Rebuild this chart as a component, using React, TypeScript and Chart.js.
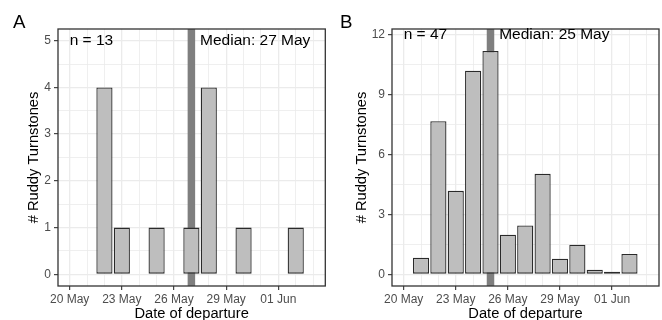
import React, { useEffect, useRef } from 'react';
import { Chart, registerables } from 'chart.js';

Chart.register(...registerables);

const FONT = "'Liberation Sans', Arial, Helvetica, sans-serif";

// x axis (dates of departure)
const xTickLabels = ['20 May', '23 May', '26 May', '29 May', '01 Jun'];
const xMin = -0.67;
const xMax = 14.7;

// Panel A
const datesA = ['22 May', '23 May', '25 May', '27 May', '28 May', '30 May', '02 Jun'];
const countsA = [4, 1, 1, 1, 4, 1, 1];
const medianA = '27 May';
const nA = 13;
const yTicksA = [0, 1, 2, 3, 4, 5];
const yMinA = -0.25;
const yMaxA = 5.25;

// Panel B
const datesB = ['21 May', '22 May', '23 May', '24 May', '25 May', '26 May', '27 May', '28 May', '29 May', '30 May', '31 May', '01 Jun', '02 Jun'];
const countsB = [0.83, 7.67, 4.18, 10.2, 11.18, 1.98, 2.45, 5.03, 0.78, 1.48, 0.23, 0.13, 1.02];
const medianB = '25 May';
const nB = 47;
const yTicksB = [0, 3, 6, 9, 12];
const yMinB = -0.585;
const yMaxB = 12.285;

const MONTH_OFFSET: Record<string, number> = { May: 0, Jun: 31 };
function dayIndex(s: string): number {
  const [d, m] = s.split(' ');
  return Number(d) + MONTH_OFFSET[m] - 20;
}

type PanelProps = {
  letter: string;
  dates: string[];
  counts: number[];
  median: string;
  n: number;
  yTicks: number[];
  yMin: number;
  yMax: number;
  yWidth: number;
  rightPad: number;
  yTitlePad: number;
  letterX: number;
  left: number;
};

function Panel(p: PanelProps) {
  const ref = useRef<HTMLCanvasElement>(null);
  useEffect(() => {
    if (!ref.current) return;
    const xs = p.dates.map(dayIndex);
    const mx = dayIndex(p.median);
    const majorX = xTickLabels.map(dayIndex);
    const gridX: number[] = [];
    for (let v = Math.ceil(xMin); v <= Math.floor(xMax); v++) gridX.push(v);
    const step = p.yTicks[1] - p.yTicks[0];
    const gridY: number[] = [];
    p.yTicks.forEach((t, i) => {
      gridY.push(t);
      if (i < p.yTicks.length - 1) gridY.push(t + step / 2);
    });
    const topY = p.yTicks[p.yTicks.length - 1];

    const annot = {
      id: 'annot',
      afterDatasetsDraw(chart: any) {
        const { ctx, chartArea } = chart;
        const { left, top, right, bottom } = chartArea;
        const x = chart.scales.x;
        const y = chart.scales.y;
        ctx.save();
        ctx.strokeStyle = '#333333';
        ctx.lineWidth = 1.3;
        ctx.strokeRect(left, top, right - left, bottom - top);
        ctx.fillStyle = '#000000';
        ctx.font = `15.5px ${FONT}`;
        ctx.textBaseline = 'middle';
        ctx.textAlign = 'left';
        const ty = y.getPixelForValue(topY) + 0.5;
        ctx.fillText(`n = ${p.n}`, x.getPixelForValue(0), ty);
        ctx.fillText(`Median: ${p.median}`, x.getPixelForValue(mx + 0.5), ty);
        ctx.font = `18.7px ${FONT}`;
        ctx.textBaseline = 'alphabetic';
        ctx.fillText(p.letter, p.letterX, 28);
        ctx.restore();
      },
    };

    const chart = new Chart(ref.current, {
      type: 'bar',
      data: {
        datasets: [
          {
            type: 'bar',
            data: xs.map((x, i) => ({ x, y: p.counts[i] })),
            backgroundColor: '#BEBEBE',
            borderColor: '#2A2A2A',
            borderWidth: 1.3,
            borderSkipped: false,
            barPercentage: 0.93,
            categoryPercentage: 1,
            order: 1,
          } as any,
          {
            type: 'line',
            data: [
              { x: mx, y: p.yMin },
              { x: mx, y: p.yMax },
            ],
            borderColor: '#7F7F7F',
            borderWidth: 7.5,
            pointRadius: 0,
            order: 2,
            clip: 0,
          } as any,
        ],
      },
      plugins: [annot],
      options: {
        responsive: false,
        animation: false,
        events: [],
        plugins: { legend: { display: false }, tooltip: { enabled: false } },
        layout: { padding: { top: 29, right: p.rightPad, left: 0, bottom: 0 } },
        scales: {
          x: {
            type: 'linear',
            min: xMin,
            max: xMax,
            offset: false,
            afterBuildTicks: (s: any) => {
              s.ticks = gridX.map((v) => ({ value: v }));
            },
            afterFit: (s: any) => {
              s.height = 34;
            },
            ticks: {
              autoSkip: false,
              maxRotation: 0,
              minRotation: 0,
              padding: 2,
              color: '#4D4D4D',
              font: { family: FONT, size: 12 },
              callback: (v: any) => {
                const i = majorX.indexOf(Number(v));
                return i >= 0 ? xTickLabels[i] : '';
              },
            },
            grid: {
              offset: false,
              color: '#EBEBEB',
              lineWidth: (c: any) => (majorX.includes(c.tick?.value) ? 1.3 : 0.8),
              tickColor: (c: any) => (majorX.includes(c.tick?.value) ? '#333333' : 'rgba(0,0,0,0)'),
              tickLength: 4,
              tickWidth: 1.1,
              drawTicks: true,
            },
            border: { display: false },
            title: {
              display: true,
              text: 'Date of departure',
              color: '#000000',
              font: { family: FONT, size: 14.7 },
              padding: { top: 0, bottom: -3.2 },
            },
          },
          y: {
            type: 'linear',
            min: p.yMin,
            max: p.yMax,
            afterBuildTicks: (s: any) => {
              s.ticks = gridY.map((v) => ({ value: v }));
            },
            afterFit: (s: any) => {
              s.width = p.yWidth;
            },
            ticks: {
              autoSkip: false,
              padding: 3,
              color: '#4D4D4D',
              font: { family: FONT, size: 12 },
              callback: (v: any) => (p.yTicks.includes(Number(v)) ? String(v) : ''),
            },
            grid: {
              color: '#EBEBEB',
              lineWidth: (c: any) => (p.yTicks.includes(c.tick?.value) ? 1.3 : 0.8),
              tickColor: (c: any) => (p.yTicks.includes(c.tick?.value) ? '#333333' : 'rgba(0,0,0,0)'),
              tickLength: 4,
              tickWidth: 1.1,
              drawTicks: true,
            },
            border: { display: false },
            title: {
              display: true,
              text: '# Ruddy Turnstones',
              color: '#000000',
              font: { family: FONT, size: 14.7 },
              padding: { top: p.yTitlePad, bottom: 0 },
            },
          },
        },
      } as any,
    });
    return () => chart.destroy();
  }, []);
  return (
    <canvas
      ref={ref}
      width={331}
      height={320}
      style={{ position: 'absolute', left: p.left, top: 0, width: 331, height: 320 }}
    />
  );
}

export default function App() {
  return (
    <div style={{ position: 'fixed', left: 0, top: 0, width: 662, height: 320, background: '#ffffff', overflow: 'hidden' }}>
      <Panel
        letter="A"
        dates={datesA}
        counts={countsA}
        median={medianA}
        n={nA}
        yTicks={yTicksA}
        yMin={yMinA}
        yMax={yMaxA}
        yWidth={58}
        rightPad={5.7}
        yTitlePad={24.9}
        letterX={13}
        left={0}
      />
      <Panel
        letter="B"
        dates={datesB}
        counts={countsB}
        median={medianB}
        n={nB}
        yTicks={yTicksB}
        yMin={yMinB}
        yMax={yMaxB}
        yWidth={61}
        rightPad={3}
        yTitlePad={22.6}
        letterX={9}
        left={331}
      />
    </div>
  );
}
